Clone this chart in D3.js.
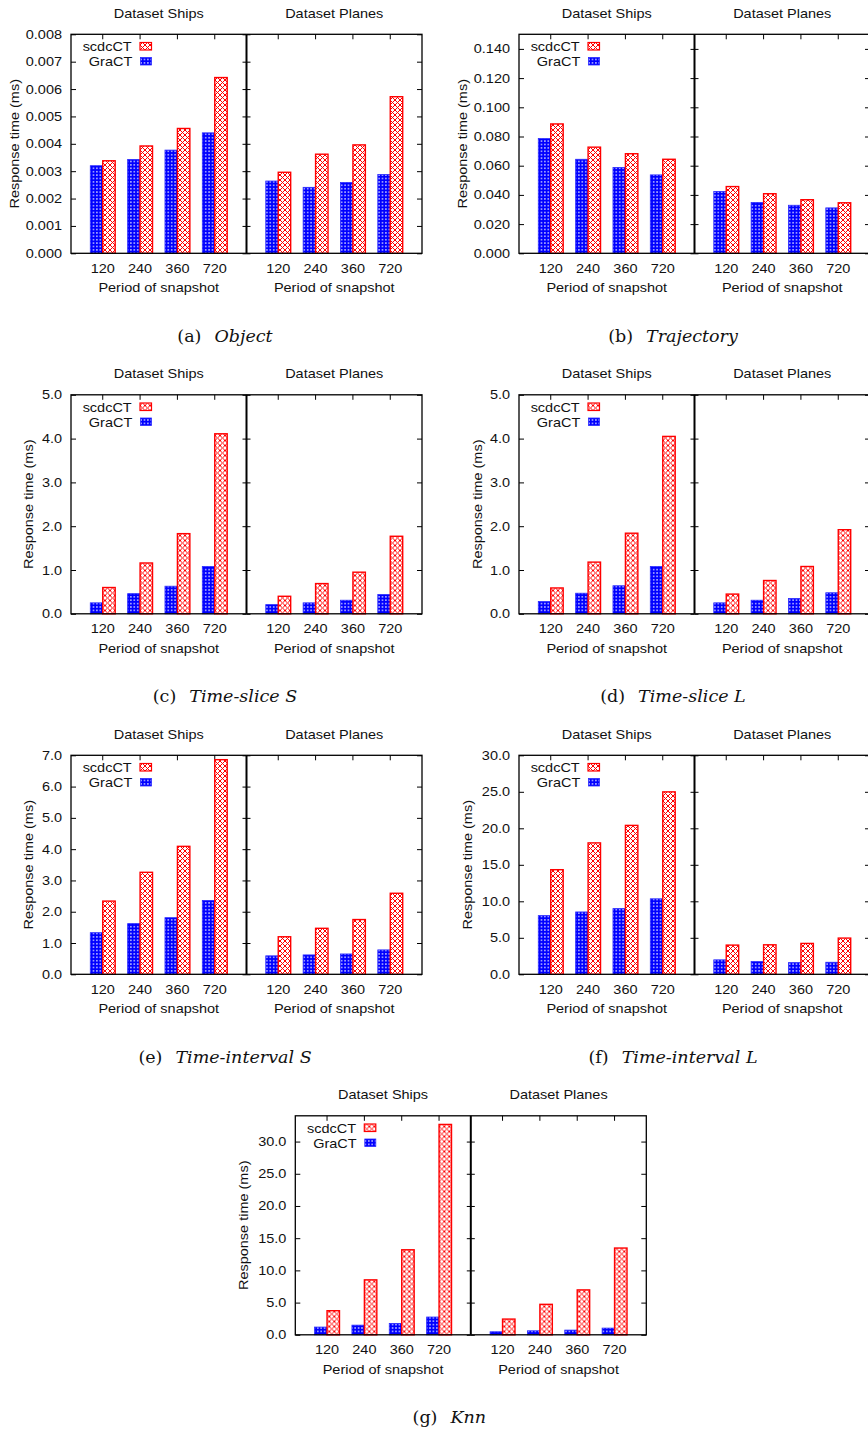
<!DOCTYPE html>
<html>
<head>
<meta charset="utf-8">
<script src="https://cdn.jsdelivr.net/npm/d3@7"></script>
<style>
  body { margin: 0; background: #fff; }
</style>
</head>
<body>
<svg id="fig" width="868" height="1433"></svg>
<script>
const categories = ["120", "240", "360", "720"];
const datasets = ["Dataset Ships", "Dataset Planes"];
const seriesNames = ["scdcCT", "GraCT"];

// every pair below is [ships, planes], one value per period of snapshot
const objectGraCT = [[0.00320, 0.00343, 0.00377, 0.00440], [0.00264, 0.00241, 0.00259, 0.00288]];
const objectScdcCT = [[0.00338, 0.00392, 0.00456, 0.00642], [0.00296, 0.00362, 0.00396, 0.00572]];
const trajGraCT = [[0.0786, 0.0644, 0.0588, 0.0537], [0.0424, 0.0348, 0.0329, 0.0311]];
const trajScdcCT = [[0.0886, 0.0727, 0.0682, 0.0644], [0.0457, 0.0408, 0.0367, 0.0346]];
const sliceSGraCT = [[0.25, 0.46, 0.63, 1.08], [0.21, 0.25, 0.31, 0.44]];
const sliceSScdcCT = [[0.60, 1.16, 1.83, 4.11], [0.40, 0.69, 0.95, 1.77]];
const sliceLGraCT = [[0.28, 0.47, 0.64, 1.08], [0.25, 0.31, 0.35, 0.48]];
const sliceLScdcCT = [[0.59, 1.18, 1.84, 4.05], [0.45, 0.76, 1.08, 1.92]];
const intervalSGraCT = [[1.33, 1.62, 1.81, 2.36], [0.59, 0.62, 0.65, 0.78]];
const intervalSScdcCT = [[2.34, 3.26, 4.09, 6.86], [1.20, 1.47, 1.75, 2.59]];
const intervalLGraCT = [[8.04, 8.54, 9.00, 10.34], [1.98, 1.75, 1.60, 1.65]];
const intervalLScdcCT = [[14.33, 18.00, 20.40, 24.99], [4.00, 4.04, 4.23, 4.96]];
const knnGraCT = [[1.20, 1.50, 1.77, 2.76], [0.47, 0.62, 0.73, 1.04]];
const knnScdcCT = [[3.74, 8.53, 13.20, 32.66], [2.44, 4.73, 6.97, 13.47]];

// y tick values
const objectTicks = [0, 0.001, 0.002, 0.003, 0.004, 0.005, 0.006, 0.007, 0.008];
const trajTicks = [0, 0.02, 0.04, 0.06, 0.08, 0.10, 0.12, 0.14];
const sliceTicks = [0, 1, 2, 3, 4, 5];
const intervalSTicks = [0, 1, 2, 3, 4, 5, 6, 7];
const fiveTicks = [0, 5, 10, 15, 20, 25, 30];

const charts = [
    { tag: "(a)", name: "Object", gra: objectGraCT, scdc: objectScdcCT, yMax: 0.008, ticks: objectTicks, fmt: ".3f", dx: 0, dy: 0, yLab: 19 },
    { tag: "(b)", name: "Trajectory", gra: trajGraCT, scdc: trajScdcCT, yMax: 0.15, ticks: trajTicks, fmt: ".3f", dx: 448, dy: 0, yLab: 19.3 },
    { tag: "(c)", name: "Time-slice S", gra: sliceSGraCT, scdc: sliceSScdcCT, yMax: 5, ticks: sliceTicks, fmt: ".1f", dx: 0, dy: 360.5, yLab: 32.5 },
    { tag: "(d)", name: "Time-slice L", gra: sliceLGraCT, scdc: sliceLScdcCT, yMax: 5, ticks: sliceTicks, fmt: ".1f", dx: 448, dy: 360.5, yLab: 33.5 },
    { tag: "(e)", name: "Time-interval S", gra: intervalSGraCT, scdc: intervalSScdcCT, yMax: 7, ticks: intervalSTicks, fmt: ".1f", dx: 0, dy: 721, yLab: 33 },
    { tag: "(f)", name: "Time-interval L", gra: intervalLGraCT, scdc: intervalLScdcCT, yMax: 30, ticks: fiveTicks, fmt: ".1f", dx: 448, dy: 721, yLab: 24 },
    { tag: "(g)", name: "Knn", gra: knnGraCT, scdc: knnScdcCT, yMax: 34, ticks: fiveTicks, fmt: ".1f", dx: 224.3, dy: 1081.5, yLab: 23.7 }
];

// frame of one chart, in its own coordinates
const L = 71, R = 422, MID = 246.5, T = 34.3, B = 253.3;
const SX = 1.16;          // gnuplot text is a bit wider than Liberation Sans
const FONT = "Liberation Sans, Arial, sans-serif";
const RED = "#ff0000", BLUE = "#0000ff";

const svg = d3.select("#fig");
const defs = svg.append("defs");

// red crosshatch
const pr = defs.append("pattern").attr("id", "hatchRed")
    .attr("patternUnits", "userSpaceOnUse").attr("width", 5).attr("height", 5);
pr.append("rect").attr("width", 5).attr("height", 5).attr("fill", "#fff");
pr.append("path").attr("d", "M0,0L5,5M5,0L0,5")
    .attr("stroke", RED).attr("stroke-width", 1);

// blue dotted fill
const pb = defs.append("pattern").attr("id", "dotBlue")
    .attr("patternUnits", "userSpaceOnUse").attr("width", 3.4).attr("height", 3.4);
pb.append("rect").attr("width", 3.4).attr("height", 3.4).attr("fill", BLUE);
pb.append("circle").attr("cx", 1.7).attr("cy", 1.7).attr("r", 0.75).attr("fill", "#fff").attr("opacity", 0.9);

function addText(g, x, y, str, anchor) {
    return g.append("text")
        .attr("transform", `translate(${x},${y}) scale(${SX},1)`)
        .attr("text-anchor", anchor)
        .attr("font-family", FONT)
        .attr("font-size", 12.5)
        .attr("fill", "#111")
        .text(str);
}

function styleAxis(a) {
    a.select(".domain").remove();
    a.selectAll("line").attr("stroke", "#000").attr("stroke-width", 1);
    a.attr("font-family", FONT).attr("font-size", 12.5);
    a.selectAll("text").attr("fill", "#111");
}

function drawChart(c) {
    const g = svg.append("g").attr("transform", `translate(${c.dx},${c.dy})`);

    const y = d3.scaleLinear().domain([0, c.yMax]).range([B, T]);

    // y axes: left with labels, right and divider only ticks
    g.append("g").attr("transform", `translate(${L},0)`)
        .call(d3.axisLeft(y).tickValues(c.ticks).tickFormat(d3.format(c.fmt)).tickSizeInner(-5).tickSizeOuter(0).tickPadding(9))
        .call(styleAxis)
        .call(a => a.selectAll("text").attr("x", -9 / SX).attr("transform", `scale(${SX},1)`));
    g.append("g").attr("transform", `translate(${R},0)`)
        .call(d3.axisRight(y).tickValues(c.ticks).tickFormat("").tickSizeInner(-5).tickSizeOuter(0))
        .call(styleAxis);
    g.append("g").attr("transform", `translate(${MID},0)`)
        .call(d3.axisLeft(y).tickValues(c.ticks).tickFormat("").tickSizeInner(4).tickSizeOuter(0))
        .call(styleAxis);
    g.append("g").attr("transform", `translate(${MID},0)`)
        .call(d3.axisRight(y).tickValues(c.ticks).tickFormat("").tickSizeInner(4).tickSizeOuter(0))
        .call(styleAxis);

    datasets.forEach((ds, di) => {
        const x0 = di === 0 ? L : MID, x1 = di === 0 ? MID : R;
        const x = d3.scaleBand().domain(categories).range([x0, x1]).paddingInner(0).paddingOuter(0.35);
        const bw = x.bandwidth();
        const sub = d3.scaleBand().domain(["GraCT", "scdcCT"]).range([0, bw * 2 / 3]);

        g.append("g").attr("transform", `translate(0,${B})`)
            .call(d3.axisBottom(x).tickSizeInner(-5).tickSizeOuter(0).tickPadding(10.8))
            .call(styleAxis)
            .call(a => a.selectAll("text").attr("transform", `scale(${SX},1)`));
        g.append("g").attr("transform", `translate(0,${T})`)
            .call(d3.axisTop(x).tickFormat("").tickSizeInner(-5).tickSizeOuter(0))
            .call(styleAxis);

        const rows = categories.map((cat, i) => ({ cat, gra: c.gra[di][i], scdc: c.scdc[di][i] }));
        const bars = g.append("g");
        bars.selectAll("rect.gra").data(rows).join("rect").attr("class", "gra")
            .attr("x", d => x(d.cat) + bw / 6 + sub("GraCT"))
            .attr("y", d => y(d.gra))
            .attr("width", sub.bandwidth())
            .attr("height", d => y(0) - y(d.gra))
            .attr("fill", "url(#dotBlue)")
            .attr("stroke", "#2a2aff").attr("stroke-width", 0.8);
        bars.selectAll("rect.scdc").data(rows).join("rect").attr("class", "scdc")
            .attr("x", d => x(d.cat) + bw / 6 + sub("scdcCT"))
            .attr("y", d => y(d.scdc))
            .attr("width", sub.bandwidth())
            .attr("height", d => y(0) - y(d.scdc))
            .attr("fill", "url(#hatchRed)")
            .attr("stroke", RED).attr("stroke-width", 1.4);

        addText(g, (x0 + x1) / 2, 17.5, ds, "middle");
        addText(g, (x0 + x1) / 2, 292, "Period of snapshot", "middle");
    });

    // frame and divider
    g.append("rect").attr("x", L).attr("y", T).attr("width", R - L).attr("height", B - T)
        .attr("fill", "none").attr("stroke", "#000").attr("stroke-width", 1.3);
    g.append("line").attr("x1", MID).attr("x2", MID).attr("y1", T).attr("y2", B)
        .attr("stroke", "#000").attr("stroke-width", 2);

    // y title
    g.append("text")
        .attr("transform", `translate(${c.yLab},${(T + B) / 2}) rotate(-90) scale(${SX},1)`)
        .attr("text-anchor", "middle")
        .attr("font-family", FONT).attr("font-size", 12.5).attr("fill", "#111")
        .text("Response time (ms)");

    // key
    addText(g, 131.7, 51, seriesNames[0], "end");
    g.append("rect").attr("x", 140).attr("y", 42.5).attr("width", 11.5).attr("height", 7.5)
        .attr("fill", "url(#hatchRed)").attr("stroke", RED).attr("stroke-width", 1.2);
    addText(g, 132.3, 66, seriesNames[1], "end");
    g.append("rect").attr("x", 140.5).attr("y", 57.5).attr("width", 11).attr("height", 7.5)
        .attr("fill", "url(#dotBlue)").attr("stroke", "#2a2aff").attr("stroke-width", 0.8);

    // caption
    const cap = g.append("text").attr("x", 225).attr("y", 341.5)
        .attr("text-anchor", "middle")
        .attr("font-family", "DejaVu Serif, serif").attr("font-size", 17.5).attr("fill", "#111");
    cap.append("tspan").text(c.tag);
    cap.append("tspan").attr("dx", 13).attr("font-style", "italic").text(c.name);
}

charts.forEach(drawChart);
</script>
</body>
</html>
